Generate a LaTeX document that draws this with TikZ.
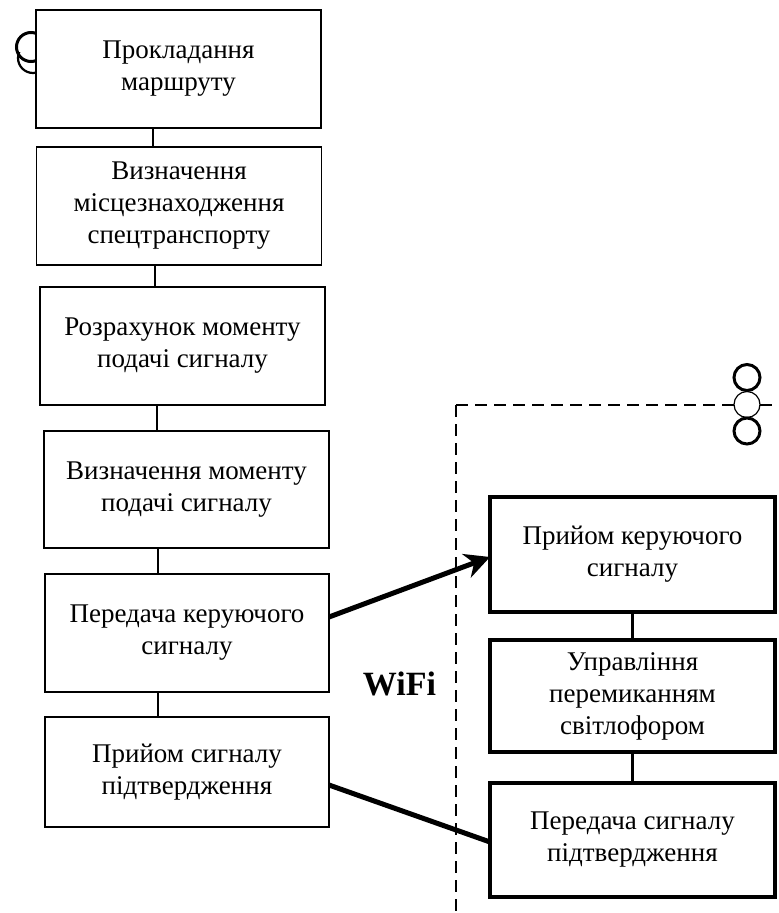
\documentclass[tikz,border=0pt]{standalone}
\usepackage{fontspec}
\setmainfont{Liberation Serif}
\usetikzlibrary{arrows.meta}
\begin{document}
\begin{tikzpicture}[x=1pt,y=-1pt,
  stepbox/.style={draw, line width=1.8pt, fill=white, inner sep=0pt, outer sep=0pt,
    align=center, minimum width=285pt, font=\fontsize{27}{32}\selectfont},
  recvbox/.style={draw, line width=4pt, fill=white, inner sep=0pt, outer sep=0pt,
    align=center, minimum width=285pt, font=\fontsize{27}{32}\selectfont},
  link/.style={line width=2.2pt},
  wire/.style={line width=5pt},
  boundary/.style={line width=1.5pt, dash pattern=on 12pt off 7pt},
  thickring/.style={line width=3pt},
  thinring/.style={line width=1.2pt, fill=white}]
\useasboundingbox (0,0) rectangle (779,913);

% partial connector symbol behind the first step
\draw[thickring] (31,47) circle (14.5);
\begin{scope}
  \clip (0,52) rectangle (36,90);
  \draw[line width=2.2pt] (33,58) circle (15);
\end{scope}

% vehicle side
\node[stepbox, minimum height=118pt] (b1) at (178.5,69) {Прокладання\\маршруту};
\node[stepbox, minimum height=118pt] (b2) at (179,206) {Визначення\\місцезнаходження\\спецтранспорту};
\node[stepbox, minimum height=118pt] (b3) at (182.5,346) {Розрахунок моменту\\подачі сигналу};
\node[stepbox, minimum height=117pt] (b4) at (186.5,489.5) {Визначення моменту\\подачі сигналу};
\node[stepbox, minimum height=118pt, minimum width=284pt] (b5) at (187,633) {Передача керуючого\\сигналу};
\node[stepbox, minimum height=110pt, minimum width=284pt] (b6) at (187,772) {Прийом сигналу\\підтвердження};

\draw[link] ([xshift=-25.5pt]b1.south) -- ([xshift=-26pt]b2.north);
\draw[link] ([xshift=-24pt]b2.south) -- ([xshift=-27.5pt]b3.north);
\draw[link] ([xshift=-25.5pt]b3.south) -- ([xshift=-29.5pt]b4.north);
\draw[link] ([xshift=-28.5pt]b4.south) -- ([xshift=-29pt]b5.north);
\draw[link] ([xshift=-29pt]b5.south) -- ([xshift=-29pt]b6.north);

% traffic light side boundary
\draw[boundary] (456,405) -- (779,405);
\draw[boundary] (456,405) -- (456,913);
\draw[thinring] (747,404.5) circle (13);
\draw[thickring] (747,377.5) circle (13);
\draw[thickring] (747,431) circle (13);

\node[recvbox, minimum height=115pt] (r1) at (632.5,554.5) {Прийом керуючого\\сигналу};
\node[recvbox, minimum height=112pt] (r2) at (632.5,696) {Управління\\перемиканням\\світлофором};
\node[recvbox, minimum height=114pt] (r3) at (632.5,840) {Передача сигналу\\підтвердження};

\draw[link] (r1.south) -- (r2.north);
\draw[link] (r2.south) -- (r3.north);

% radio link
\node[font=\fontsize{34}{40}\selectfont\bfseries] (wifi) at (399.5,684) {WiFi};
\draw[wire, -{Stealth[length=25pt, width=25pt, inset=8pt]}]
  ([yshift=16pt]b5.east) -- ([yshift=-2.5pt]r1.west);
\draw[wire] ([yshift=-13pt]b6.east) -- ([yshift=-2pt]r3.west);
\end{tikzpicture}
\end{document}
